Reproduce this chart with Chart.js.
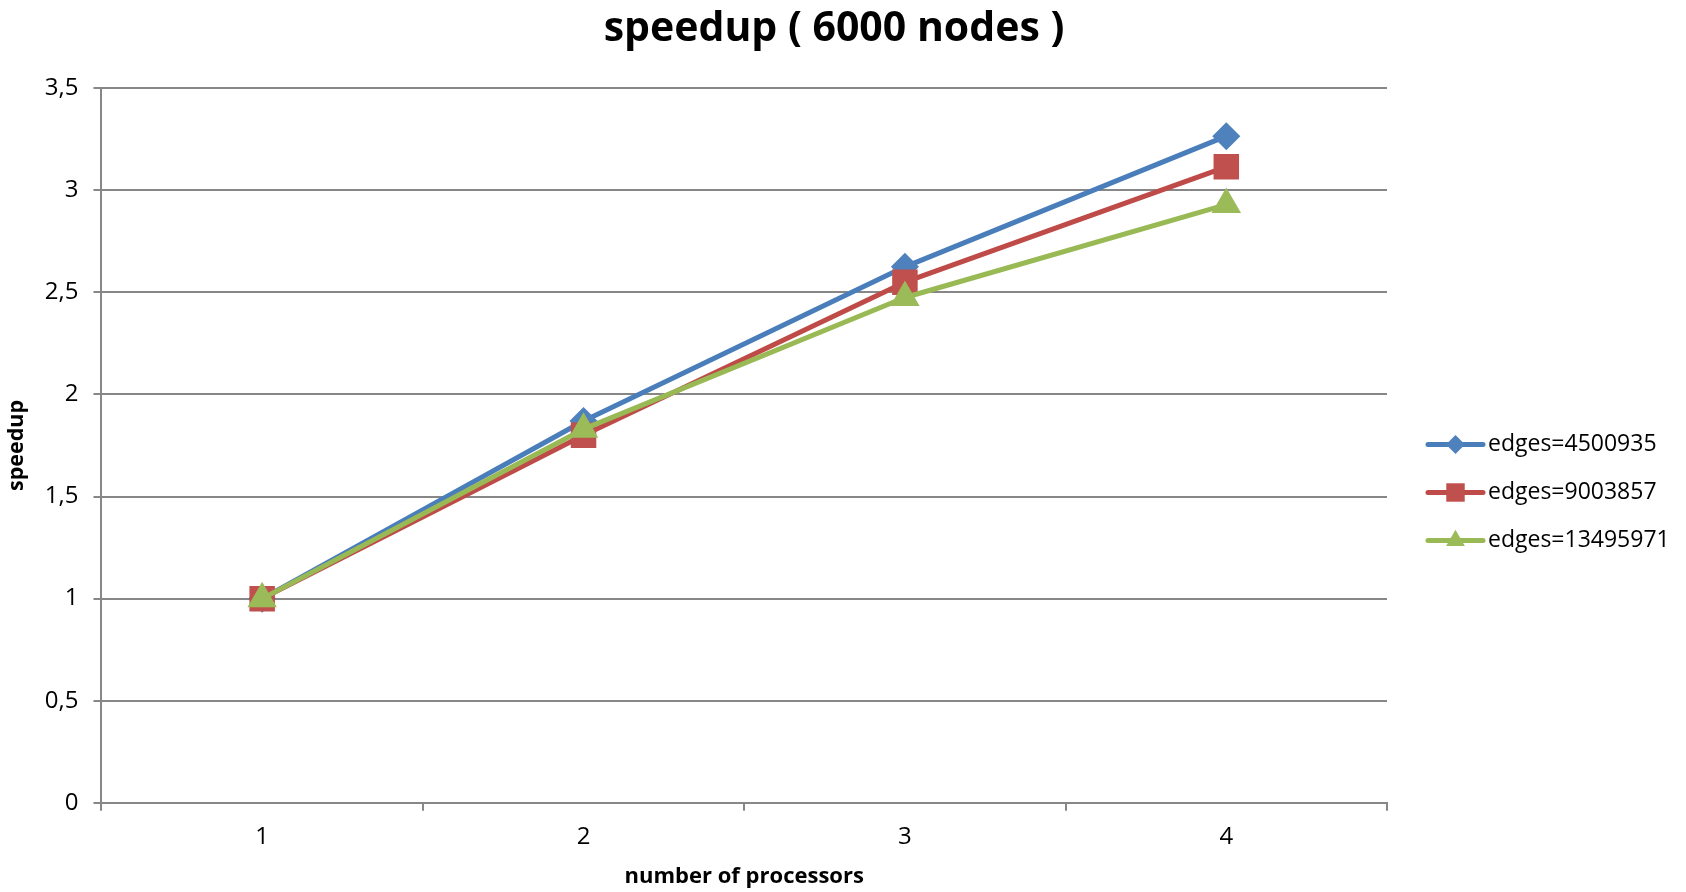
<!DOCTYPE html>
<html>
<head>
<meta charset="utf-8">
<title>speedup ( 6000 nodes )</title>
<script src="https://cdn.jsdelivr.net/npm/chart.js@4.4.0/dist/chart.umd.min.js"></script>
<style>
    html, body { margin: 0; padding: 0; background: #fff; }
</style>
</head>
<body>
<canvas id="speedupChart" width="1686" height="892"></canvas>
<script>
const processors = ['1', '2', '3', '4'];
const edges4500935 = [1, 1.87, 2.625, 3.265];
const edges9003857 = [1, 1.80, 2.55, 3.115];
const edges13495971 = [1, 1.83, 2.475, 2.93];
const yTickLabels = ['0', '0,5', '1', '1,5', '2', '2,5', '3', '3,5'];

const axisGray = '#878787';
const fontFamily = "'Open Sans', sans-serif";

// legend on the right: short line with the marker in the middle
function drawLineLegend(chart, box) {
    const ctx = chart.ctx;
    const area = chart.chartArea;
    const x0 = box.left + 41;
    const midY = (area.top + area.bottom) / 2 + 47;
    ctx.save();
    chart.data.datasets.forEach((ds, i) => {
        const y = midY + (i - 1) * 48;
        ctx.strokeStyle = ds.borderColor;
        ctx.lineWidth = ds.borderWidth;
        ctx.lineCap = 'round';
        ctx.beginPath();
        ctx.moveTo(x0, y);
        ctx.lineTo(x0 + 55, y);
        ctx.stroke();
        ctx.fillStyle = ds.pointBackgroundColor;
        Chart.helpers.drawPoint(ctx, {
            pointStyle: ds.pointStyle,
            radius: ds.pointRadius * 0.9,
            rotation: 0,
            borderWidth: 0
        }, x0 + 27.5, y);
        ctx.fillStyle = '#000';
        ctx.font = '23px ' + fontFamily;
        ctx.textBaseline = 'middle';
        ctx.textAlign = 'left';
        ctx.fillText(ds.label, x0 + 60, y);
    });
    ctx.restore();
}

// reserves a column right of the plot for the legend
const lineLegend = {
    id: 'lineLegend',
    beforeInit(chart) {
        Chart.layouts.addBox(chart, {
            position: 'right',
            weight: 1000,
            fullSize: false,
            options: {},
            isHorizontal() { return false; },
            update(maxWidth, maxHeight) {
                this.width = 281;
                this.height = maxHeight;
            },
            draw() { drawLineLegend(chart, this); }
        });
    }
};

const ctx = document.querySelector('#speedupChart');
new Chart(ctx, {
    type: 'line',
    data: {
        labels: processors,
        datasets: [
            {
                label: 'edges=4500935',
                data: edges4500935,
                borderColor: '#4A7EBB',
                pointBackgroundColor: '#4F81BD',
                pointBorderColor: '#4F81BD',
                pointStyle: 'rectRot',
                pointRadius: 10.5,
                borderWidth: 5,
                order: 3
            },
            {
                label: 'edges=9003857',
                data: edges9003857,
                borderColor: '#BE4B48',
                pointBackgroundColor: '#C0504D',
                pointBorderColor: '#C0504D',
                pointStyle: 'rect',
                pointRadius: 14.5,
                borderWidth: 5,
                order: 2
            },
            {
                label: 'edges=13495971',
                data: edges13495971,
                borderColor: '#98B954',
                pointBackgroundColor: '#9BBB59',
                pointBorderColor: '#9BBB59',
                pointStyle: 'triangle',
                pointRadius: 12,
                borderWidth: 5,
                order: 1
            }
        ]
    },
    options: {
        responsive: false,
        animation: false,
        devicePixelRatio: 1,
        layout: {
            padding: { top: 0, right: 18, bottom: 0, left: 0 }
        },
        elements: {
            line: { tension: 0, borderJoinStyle: 'round' },
            point: { borderWidth: 1, hoverRadius: 12 }
        },
        plugins: {
            legend: { display: false },
            tooltip: { enabled: false },
            title: {
                display: true,
                text: 'speedup ( 6000 nodes )',
                color: '#000',
                font: { family: fontFamily, size: 41, weight: 'bold', lineHeight: 1.2 },
                padding: { top: 5, bottom: 34 }
            }
        },
        scales: {
            x: {
                offset: true,
                grid: {
                    offset: true,
                    drawOnChartArea: false,
                    color: axisGray,
                    lineWidth: 2,
                    tickLength: 8
                },
                border: { color: axisGray, width: 2 },
                ticks: {
                    color: '#000',
                    padding: 12,
                    font: { family: fontFamily, size: 24 }
                },
                title: {
                    display: true,
                    text: 'number of processors',
                    color: '#000',
                    font: { family: fontFamily, size: 22, weight: 'bold' },
                    padding: { top: 0, bottom: 2 }
                }
            },
            y: {
                min: 0,
                max: 3.5,
                grid: {
                    color: axisGray,
                    lineWidth: 2,
                    tickLength: 8
                },
                border: { color: axisGray, width: 2 },
                ticks: {
                    stepSize: 0.5,
                    color: '#000',
                    padding: 15,
                    font: { family: fontFamily, size: 24 },
                    callback: function (value, index) {
                        return yTickLabels[index];
                    }
                },
                title: {
                    display: true,
                    text: 'speedup',
                    color: '#000',
                    font: { family: fontFamily, size: 21.5, weight: 'bold' },
                    padding: { top: 4, bottom: 0 }
                }
            }
        }
    },
    plugins: [lineLegend]
});
</script>
</body>
</html>
